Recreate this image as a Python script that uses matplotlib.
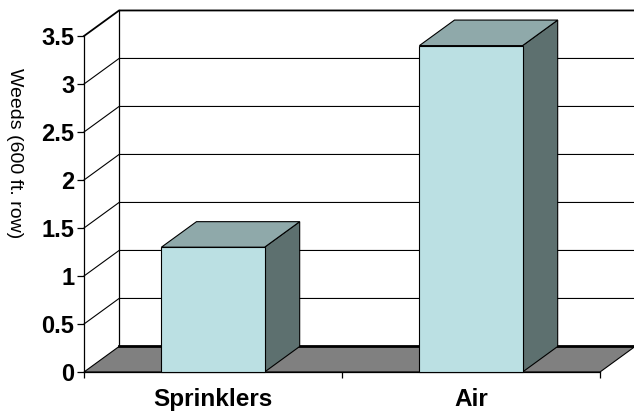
import matplotlib.pyplot as plt
from matplotlib.patches import Polygon

categories = ["Sprinklers", "Air"]
values = [1.3, 3.4]
yticks = [0, 0.5, 1, 1.5, 2, 2.5, 3, 3.5]
ytick_labels = ["0", "0.5", "1", "1.5", "2", "2.5", "3", "3.5"]
ylabel = "Weeds (600 ft. row)"

plt.rcParams['font.family'] = ['Liberation Sans', 'DejaVu Sans']

fig = plt.figure(figsize=(6.34, 4.12), dpi=100)
ax = fig.add_axes([84 / 634, 40 / 412, 516 / 634, 336 / 412])
ax.patch.set_visible(False)

xmin, xmax = -0.5, len(categories) - 0.5
ymax = yticks[-1]
ax.set_xlim(xmin, xmax)
ax.set_ylim(0, ymax)

# depth of the 3d box in data units
dx = 0.136
dy = 0.266
bar_w = 0.4

# side and back wall gridlines
for v in yticks[1:]:
    lw = 1.3 if v == ymax else 0.8
    ax.plot([xmin, xmin + dx, xmax + dx], [v, v + dy, v + dy],
            color='black', lw=lw, clip_on=False, zorder=1)
ax.plot([xmin + dx, xmin + dx], [dy, ymax + dy], color='black', lw=0.9,
        clip_on=False, zorder=1)

# floor
floor = Polygon([(xmin, 0), (xmax, 0), (xmax + dx, dy), (xmin + dx, dy)],
                closed=True, facecolor='#808080', edgecolor='black', lw=0.8,
                clip_on=False, zorder=2)
ax.add_patch(floor)
ax.plot([xmin + dx, xmax + dx], [dy, dy], color='black', lw=2,
        clip_on=False, zorder=2.1)

# 3d columns
for i, v in enumerate(values):
    x0, x1 = i - bar_w / 2, i + bar_w / 2
    side = Polygon([(x1, 0), (x1 + dx, dy), (x1 + dx, v + dy), (x1, v)],
                   facecolor='#5d706f', edgecolor='black', lw=0.8,
                   clip_on=False, zorder=3)
    top = Polygon([(x0, v), (x1, v), (x1 + dx, v + dy), (x0 + dx, v + dy)],
                  facecolor='#8fa9aa', edgecolor='black', lw=0.8,
                  clip_on=False, zorder=3)
    front = Polygon([(x0, 0), (x1, 0), (x1, v), (x0, v)],
                    facecolor='#bbe0e3', edgecolor='black', lw=0.8,
                    clip_on=False, zorder=3.1)
    for p in (side, top, front):
        ax.add_patch(p)

for s in ('top', 'right'):
    ax.spines[s].set_visible(False)
for s in ('left', 'bottom'):
    ax.spines[s].set_color('black')
    ax.spines[s].set_linewidth(0.9)

ax.set_yticks(yticks)
ax.set_yticklabels(ytick_labels, fontsize=17, fontweight='bold')
ax.tick_params(axis='y', direction='out', length=5, width=0.9, pad=2)

ax.set_xticks([xmin + k for k in range(len(categories) + 1)])
ax.set_xticklabels([])
ax.tick_params(axis='x', direction='out', length=4.5, width=0.9)
for i, name in enumerate(categories):
    ax.annotate(name, xy=(i, 0), xytext=(0, -20), textcoords='offset points',
                ha='center', va='center', fontsize=17.5, fontweight='bold')

fig.text(14 / 634, 1 - 153 / 412, ylabel, rotation=270, ha='center',
         va='center', fontsize=14)

fig.savefig('out.png', dpi=100)
